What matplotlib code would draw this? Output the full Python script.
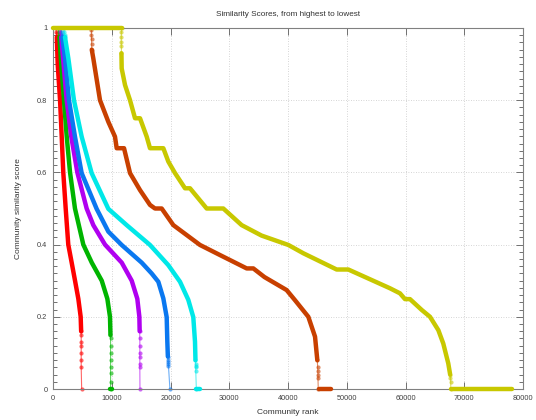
import matplotlib
matplotlib.use('Agg')
import matplotlib.pyplot as plt
from matplotlib.ticker import MultipleLocator

plt.rcParams['font.family'] = ['Liberation Sans', 'DejaVu Sans']

# dense part of each curve (rank, score)
red_rank = [650, 800, 1200, 1480, 1750, 2160, 2600, 3180, 3750, 4310, 4710, 4790]
red_score = [0.975, 0.9, 0.8, 0.7, 0.6, 0.5, 0.4, 0.35, 0.3, 0.25, 0.2, 0.16]
green_rank = [1100, 1400, 1870, 2330, 2900, 3740, 5160, 6600, 8300, 9250, 9700, 9780]
green_score = [0.975, 0.9, 0.8, 0.7, 0.6, 0.5, 0.4, 0.35, 0.3, 0.25, 0.2, 0.15]
purple_rank = [1400, 1800, 2330, 3100, 4140, 5730, 6860, 8850, 11700, 13400, 14350, 14700, 14750]
purple_score = [0.975, 0.9, 0.8, 0.7, 0.6, 0.5, 0.454, 0.4, 0.35, 0.3, 0.25, 0.2, 0.16]
blue_rank = [1600, 2040, 2720, 3740, 4880, 7430, 9420, 11690, 15100, 16800, 17930, 18780, 19350, 19460, 19550]
blue_score = [0.975, 0.916, 0.8, 0.699, 0.598, 0.499, 0.436, 0.399, 0.35, 0.32, 0.297, 0.251, 0.199, 0.131, 0.09]
cyan_rank = [2040, 2610, 3570, 4880, 6580, 9420, 12540, 16510, 19630, 21620, 23030, 23880, 24170, 24250]
cyan_score = [0.975, 0.916, 0.8, 0.699, 0.598, 0.499, 0.454, 0.399, 0.343, 0.297, 0.247, 0.199, 0.131, 0.08]
brown_rank = [6600, 6860, 8000, 9420, 10550, 10840, 12090, 13110, 14810, 16510, 17360, 18500, 20480,
              25020, 28430, 32970, 34100, 36000, 39770, 41190, 43460, 44600, 44990]
brown_score = [0.94, 0.916, 0.8, 0.74, 0.699, 0.667, 0.667, 0.598, 0.551, 0.51, 0.5, 0.5, 0.454,
               0.399, 0.371, 0.334, 0.334, 0.31, 0.274, 0.246, 0.2, 0.145, 0.08]
yellow_rank = [11650, 11690, 12260, 13110, 13960, 14810, 15950, 16510, 18780, 19630, 20770,
               22470, 23320, 26160, 28990, 32110, 35500, 40060, 42610, 48280, 50270, 57360, 59060,
               59910, 60760, 62760, 64170, 65590, 66430, 67280, 67600]
yellow_score = [0.93, 0.888, 0.842, 0.8, 0.75, 0.75, 0.699, 0.667, 0.667, 0.63, 0.598,
                0.556, 0.556, 0.5, 0.5, 0.454, 0.425, 0.399, 0.376, 0.331, 0.331, 0.279, 0.265,
                0.249, 0.249, 0.219, 0.2, 0.163, 0.126, 0.071, 0.04]

# sparse ends: top of each curve, bottom tail, and the run at zero (or at one)
red_top = ([500, 560, 600, 650], [1.0, 0.99, 0.985, 0.975])
red_tail = ([4790, 4800, 4800, 4800, 4800, 4800, 4800, 4880],
            [0.16, 0.15, 0.13, 0.12, 0.1, 0.08, 0.06, 0.0])
red_flat = ([4880, 4880], [0.0, 0.0])
green_top = ([850, 950, 1050, 1100], [1.0, 0.99, 0.98, 0.975])
green_tail = ([9780, 9800, 9800, 9800, 9800, 9800, 9800, 9800, 9800],
              [0.15, 0.14, 0.12, 0.1, 0.08, 0.06, 0.045, 0.02, 0.0])
green_flat = ([9750, 10000], [0.0, 0.0])
purple_top = ([1150, 1250, 1350, 1400], [1.0, 0.99, 0.98, 0.975])
purple_tail = ([14750, 14780, 14780, 14780, 14780, 14780, 14780, 14800],
               [0.16, 0.14, 0.12, 0.1, 0.09, 0.07, 0.06, 0.0])
purple_flat = ([14750, 14850], [0.0, 0.0])
blue_top = ([1350, 1450, 1550, 1600], [1.0, 0.99, 0.98, 0.975])
blue_tail = ([19550, 19580, 19600, 19600, 19650, 19900],
             [0.09, 0.08, 0.075, 0.07, 0.065, 0.0])
blue_flat = ([19850, 19950], [0.0, 0.0])
cyan_top = ([1800, 1900, 2000, 2040], [1.0, 0.99, 0.98, 0.975])
cyan_tail = ([24250, 24280, 24300, 24300, 24300, 24400],
             [0.08, 0.07, 0.065, 0.06, 0.05, 0.0])
cyan_flat = ([24300, 25100], [0.0, 0.0])
brown_top = ([6550, 6550, 6560, 6580, 6600], [0.995, 0.98, 0.97, 0.955, 0.94])
brown_tail = ([44990, 45050, 45080, 45100, 45100, 45150],
              [0.08, 0.06, 0.05, 0.04, 0.03, 0.0])
brown_flat = ([45200, 47400], [0.0, 0.0])
yellow_top = ([11700, 11650, 11620, 11620, 11640, 11650],
              [1.0, 0.99, 0.975, 0.96, 0.95, 0.93])
yellow_tail = ([67600, 67650, 67700, 67700], [0.04, 0.03, 0.02, 0.0])
yellow_flat = ([0, 11700, None, 67700, 78200], [1.0, 1.0, None, 0.0, 0.0])

series = [
    ('#ff0000', red_rank, red_score, red_top, red_tail, red_flat),
    ('#00b400', green_rank, green_score, green_top, green_tail, green_flat),
    ('#b000f0', purple_rank, purple_score, purple_top, purple_tail, purple_flat),
    ('#0a78f0', blue_rank, blue_score, blue_top, blue_tail, blue_flat),
    ('#00e8e8', cyan_rank, cyan_score, cyan_top, cyan_tail, cyan_flat),
    ('#c84000', brown_rank, brown_score, brown_top, brown_tail, brown_flat),
    ('#c8c800', yellow_rank, yellow_score, yellow_top, yellow_tail, yellow_flat),
]

fig = plt.figure(figsize=(5.36, 4.2), dpi=100)
ax = fig.add_axes([53 / 536, 31 / 420, 470 / 536, 361 / 420])

for color, xs, ys, top, tail, flat in series:
    ax.plot(xs, ys, color=color, lw=3.2, solid_capstyle='round', solid_joinstyle='round', zorder=3)
    for part in (top, tail):
        ax.plot(part[0], part[1], color=color, lw=0.8, alpha=0.6, marker='o', ms=3,
                markeredgewidth=0, zorder=2, clip_on=False)
    fx = [float('nan') if v is None else v for v in flat[0]]
    fy = [float('nan') if v is None else v for v in flat[1]]
    ax.plot(fx, fy, color=color, lw=3.2, solid_capstyle='round', zorder=3, clip_on=False)

ax.set_xlim(0, 80000)
ax.set_ylim(0, 1)
ax.xaxis.set_major_locator(MultipleLocator(10000))
ax.yaxis.set_minor_locator(MultipleLocator(0.02))
ax.set_yticks([0, 0.2, 0.4, 0.6, 0.8, 1.0])
ax.set_yticklabels(['0', '0.2', '0.4', '0.6', '0.8', '1'])

ax.grid(True, which='major', color='#c8c8c8', ls=(0, (1, 2)), lw=0.6)
ax.tick_params(which='both', direction='in', top=True, right=True, colors='#707070',
               labelcolor='#404040', labelsize=5.3, width=0.7)
ax.tick_params(which='major', length=5, pad=4)
ax.tick_params(which='minor', length=3)
for s in ax.spines.values():
    s.set_color('#808080')
    s.set_linewidth(0.8)

ax.set_title('Similarity Scores, from highest to lowest', fontsize=5.9, color='#333333', pad=9)
ax.set_xlabel('Community rank', fontsize=6.0, color='#333333', labelpad=5)
ax.set_ylabel('Community similarity score', fontsize=6.0, color='#333333', labelpad=11)

fig.savefig('out.png', dpi=100)
